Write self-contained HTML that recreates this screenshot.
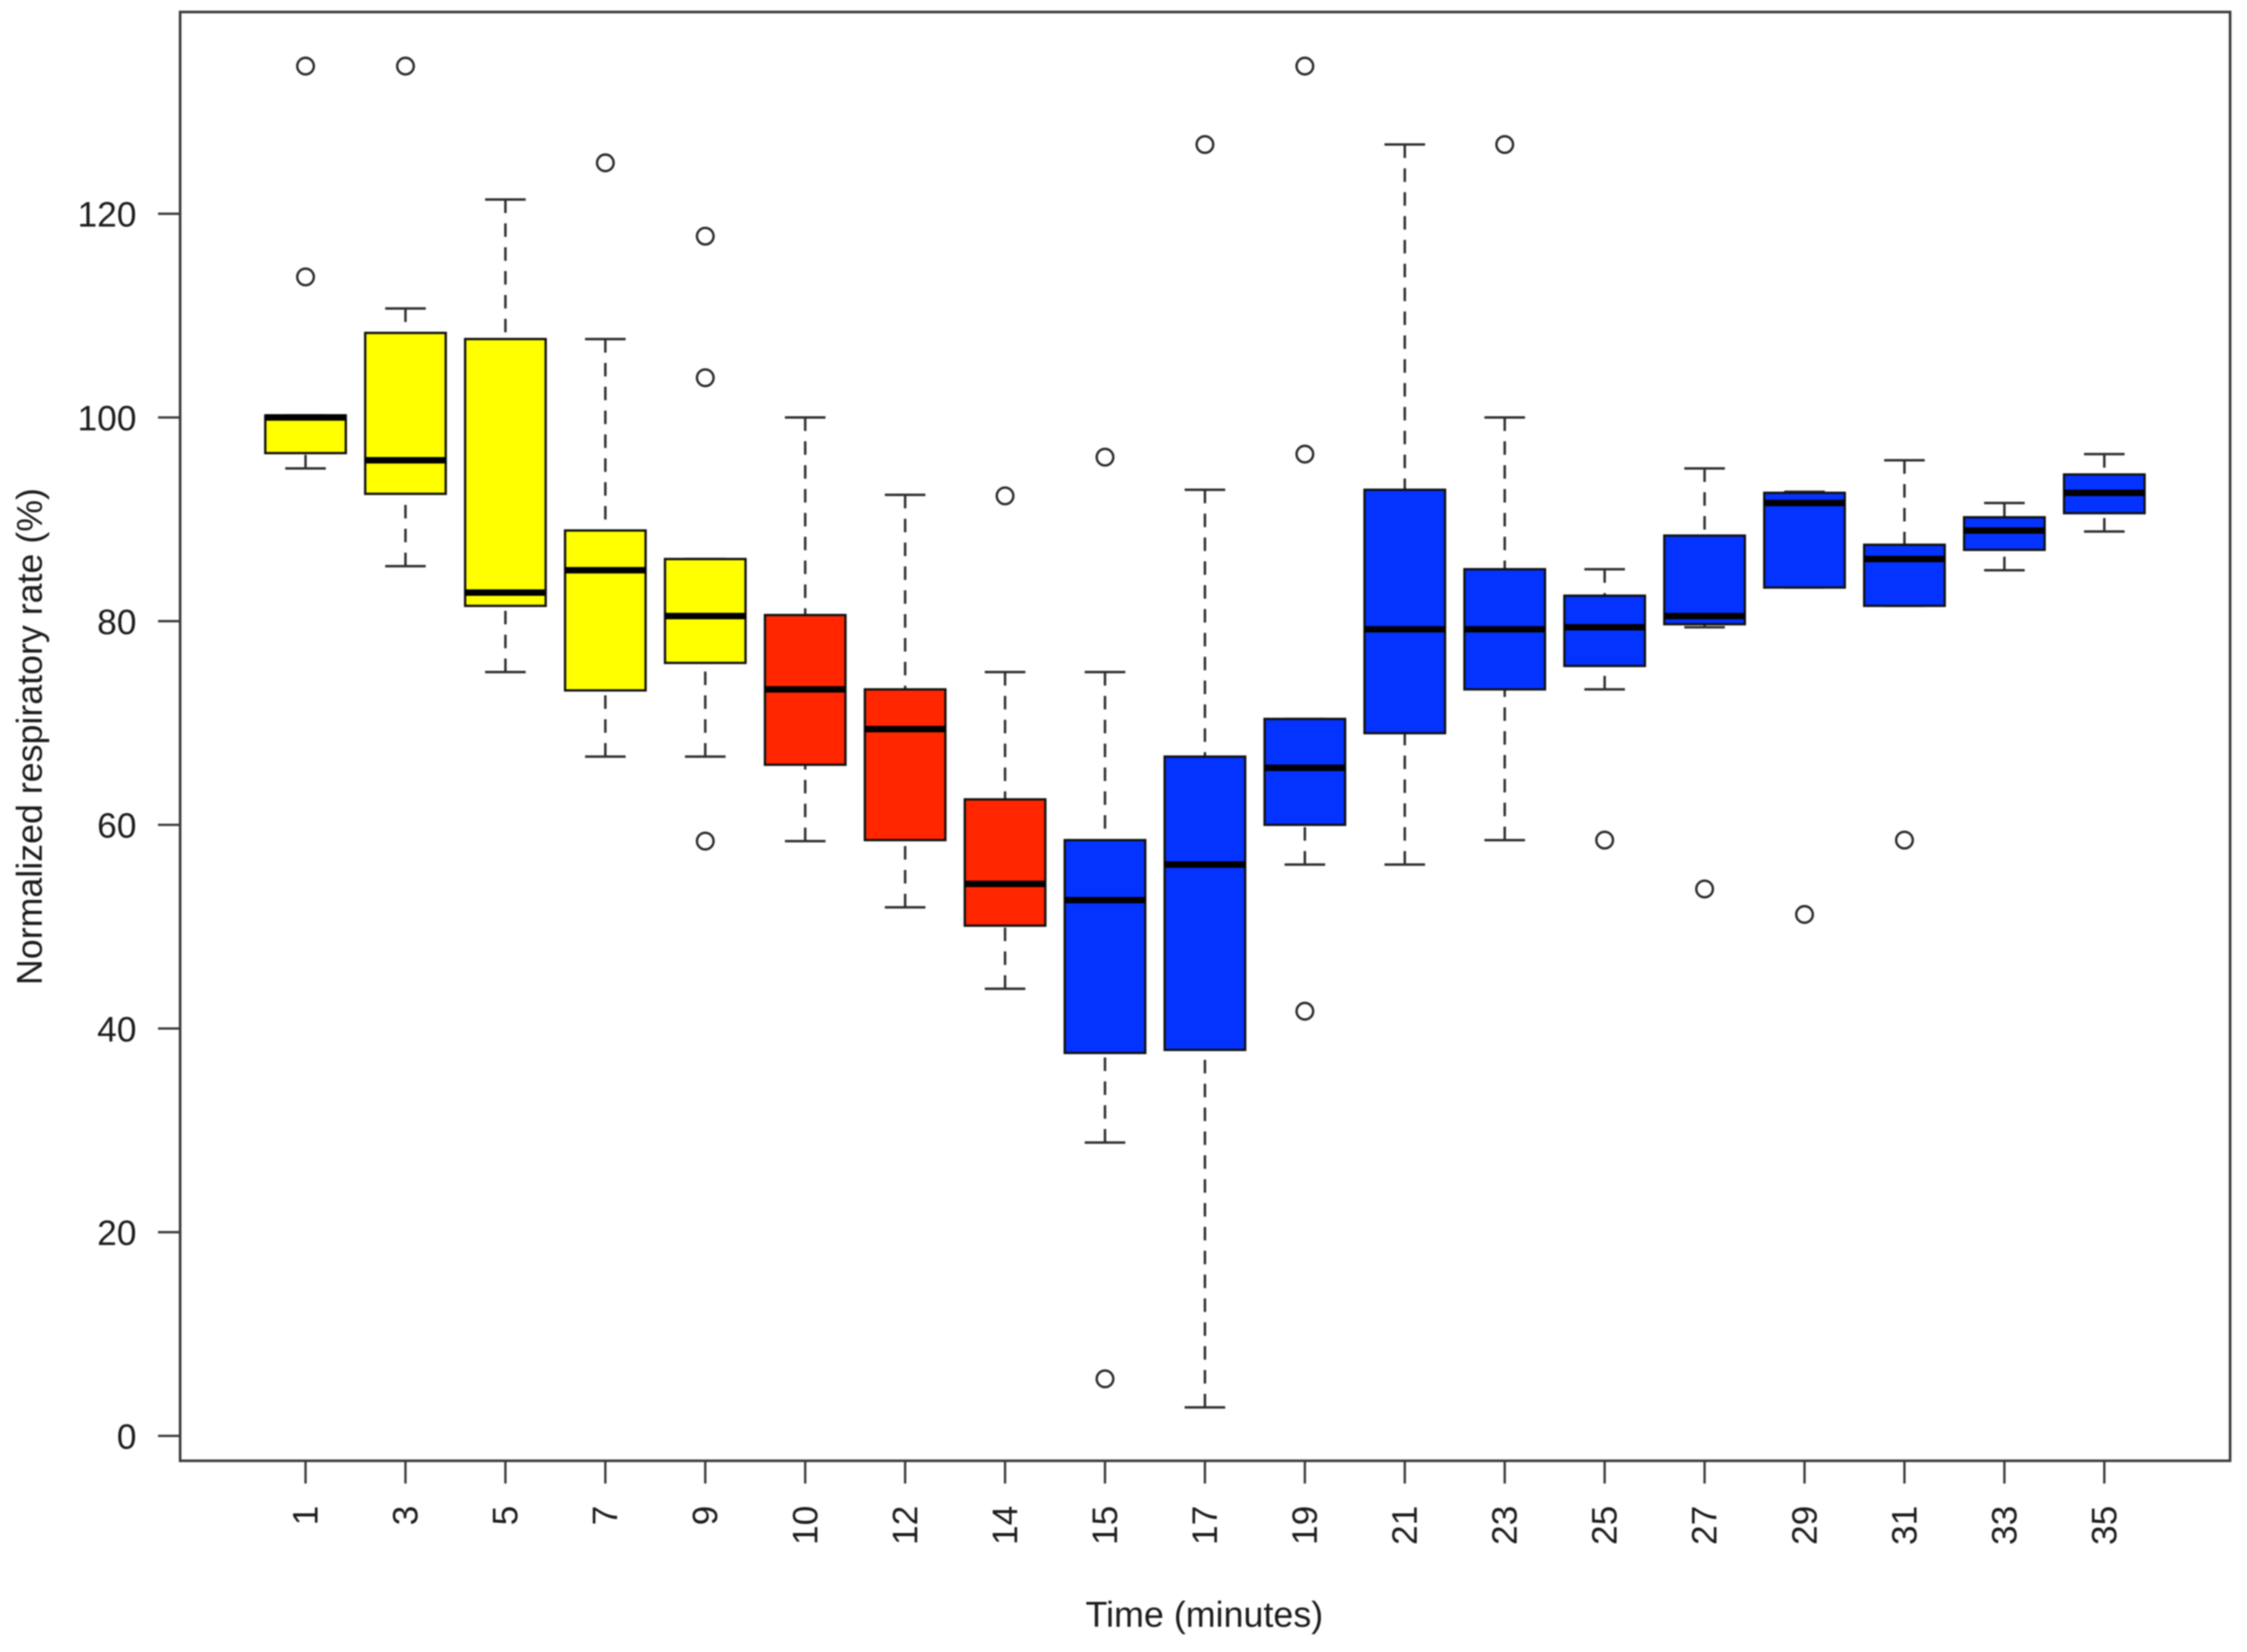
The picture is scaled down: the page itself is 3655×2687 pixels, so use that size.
<!DOCTYPE html>
<html lang="en">
<head>
<meta charset="utf-8">
<title>Normalized respiratory rate over time</title>
<style>
html,body{margin:0;padding:0;background:#fff;width:3655px;height:2687px;overflow:hidden}
svg{display:block;filter:blur(1px)}
text{font-family:"Liberation Sans",Arial,sans-serif;fill:#1c1c1c}
</style>
</head>
<body>
<svg id="chart" xmlns="http://www.w3.org/2000/svg" width="3655" height="2687" viewBox="0 0 3655 2687">
<rect x="0" y="0" width="3655" height="2687" fill="#fff"/>
<text id="x-title" x="1959" y="2646" font-size="58.3" text-anchor="middle">Time (minutes)</text>
<text id="y-title" transform="translate(68,1198) rotate(-90)" font-size="58.2" text-anchor="middle">Normalized respiratory rate (%)</text>
</svg>
<script>
const categories = ['1','3','5','7','9','10','12','14','15','17','19','21','23','25','27','29','31','33','35'];
const phases = ['a','a','a','a','a','b','b','b','c','c','c','c','c','c','c','c','c','c','c'];
const lowerWhisker = [95,85.4,75,66.7,66.7,58.4,51.9,43.9,28.8,2.8,56.1,56.1,58.5,73.3,79.4,83.3,81.5,85,88.8];
const lowerQuartile = [96.5,92.5,81.5,73.2,75.9,65.9,58.5,50.1,37.6,37.9,60,69,73.3,75.6,79.7,83.3,81.5,87,90.6];
const medians = [100,95.8,82.8,85,80.5,73.3,69.4,54.2,52.6,56.1,65.6,79.2,79.2,79.4,80.5,91.6,86.1,88.9,92.6];
const upperQuartile = [100.2,108.3,107.7,88.9,86.1,80.6,73.3,62.5,58.5,66.7,70.4,92.9,85.1,82.5,88.4,92.6,87.5,90.2,94.4];
const upperWhisker = [100.2,110.7,121.4,107.7,86.1,100,92.4,75,75,92.9,70.4,126.8,100,85.1,95,92.7,95.8,91.6,96.4];
const outliers = [[113.8,134.5],[134.5],[],[125],[117.8,103.9,58.4],[],[],[92.3],[96.1,5.6],[126.8],[134.5,96.4,41.7],[],[126.8],[58.5],[53.7],[51.2],[58.5],[],[]];
const yTicks = [0,20,40,60,80,100,120];

const NS = 'http://www.w3.org/2000/svg';
const svg = document.getElementById('chart');
const frame = {left:293,right:3627.5,top:19.5,bottom:2376};
const palette = {a:'#FFFF00',b:'#FF2600',c:'#0433FF'};
const boxHalf = 65.5, capHalf = 33;

function xPos(i){ return 497 + 162.55 * i; }
function yPos(v){ return 2335.5 - 16.565 * v; }

function make(tag, parent, attrs){
  const node = document.createElementNS(NS, tag);
  for (const k in attrs) node.setAttribute(k, attrs[k]);
  parent.appendChild(node);
  return node;
}

categories.forEach(function(cat, i){
  const g = make('g', svg, {});
  
  
  const x = xPos(i);
  const wStyle = {stroke:'#2e2e2e','stroke-width':4,fill:'none'};

  [[upperWhisker[i],upperQuartile[i],'upper'],[lowerWhisker[i],lowerQuartile[i],'lower']].forEach(function(w){
    const line = make('line', g, Object.assign({x1:x,x2:x,y1:yPos(w[0]),y2:yPos(w[1]),'stroke-dasharray':'22 16.8'}, wStyle));
    
    
    const cap = make('line', g, Object.assign({x1:x-capHalf,x2:x+capHalf,y1:yPos(w[0]),y2:yPos(w[0])}, wStyle));
    
    
  });

  const box = make('rect', g, {
    x:x-boxHalf, y:yPos(upperQuartile[i]), width:boxHalf*2,
    height:yPos(lowerQuartile[i])-yPos(upperQuartile[i]),
    fill:palette[phases[i]], stroke:'#111', 'stroke-width':3.8
  });
  
  

  const med = make('line', g, {x1:x-boxHalf,x2:x+boxHalf,y1:yPos(medians[i]),y2:yPos(medians[i]),stroke:'#000','stroke-width':10.5});
  
  

  outliers[i].forEach(function(v, j){
    const c = make('circle', g, {cx:x,cy:yPos(v),r:13.5,fill:'none',stroke:'#2a2a2a','stroke-width':3.9});
    
    
  });
});

const border = make('rect', svg, {x:frame.left,y:frame.top,width:frame.right-frame.left,height:frame.bottom-frame.top,fill:'none',stroke:'#3a3a3a','stroke-width':4.2});



yTicks.forEach(function(t){
  const y = yPos(t);
  const tick = make('line', svg, {x1:frame.left-36,x2:frame.left,y1:y,y2:y,stroke:'#3a3a3a','stroke-width':3.8});
  
  
  const label = make('text', svg, {x:222,y:y+21,'font-size':57.5,'text-anchor':'end'});
  label.textContent = String(t);
  
  
});

categories.forEach(function(cat, i){
  const x = xPos(i);
  const tick = make('line', svg, {x1:x,x2:x,y1:frame.bottom,y2:frame.bottom+37,stroke:'#3a3a3a','stroke-width':3.8});
  
  
  const label = make('text', svg, {transform:'translate(' + (x+19.5) + ',2449) rotate(-90)','font-size':57.5,'text-anchor':'end'});
  label.textContent = cat;
  
  
});
</script>
</body>
</html>
